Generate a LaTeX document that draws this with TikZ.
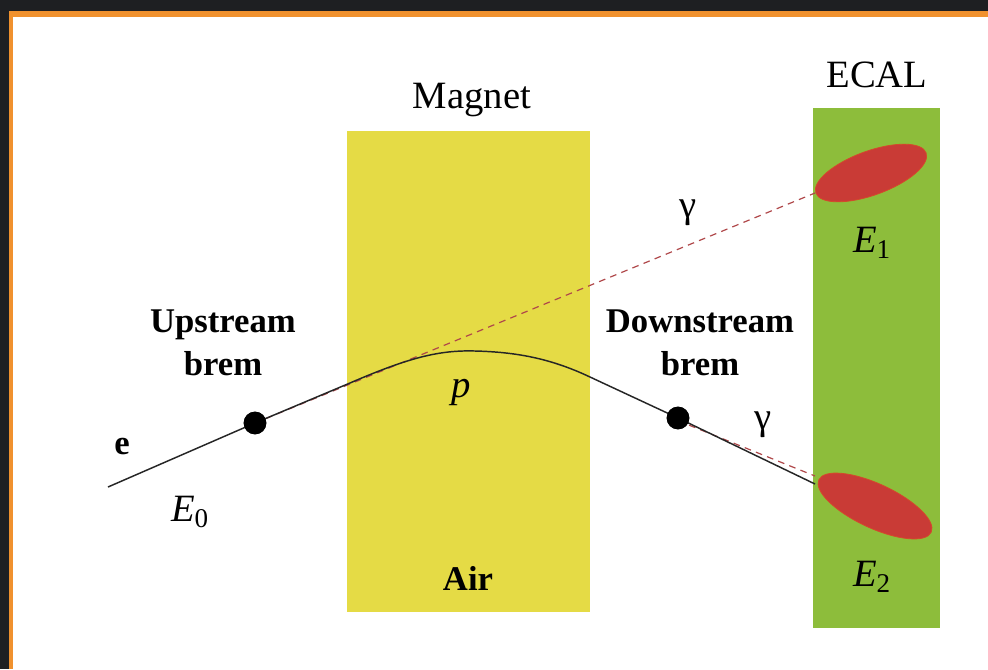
\documentclass[tikz,border=0pt]{standalone}
\usepackage{fontspec}
\setmainfont{Liberation Serif}
\usetikzlibrary{shapes.geometric}
\definecolor{magnetyellow}{HTML}{E5DB45}
\definecolor{ecalgreen}{HTML}{8DBD3B}
\definecolor{showerred}{HTML}{C93B36}
\definecolor{framedark}{HTML}{1E1F22}
\definecolor{frameorange}{HTML}{F0912E}
\definecolor{photonred}{HTML}{B0484A}
\tikzset{
  lbl/.style={font=\fontsize{29}{34}\selectfont, inner sep=0pt},
  blbl/.style={font=\fontsize{26}{30}\selectfont\bfseries, inner sep=0pt, align=center},
  vertex/.style={circle, fill=black, minimum size=17pt, inner sep=0pt},
  shower/.style={ellipse, fill=showerred, draw=showerred!80!orange, line width=0.6pt, inner sep=0pt},
  track/.style={line width=1.1pt, black!85},
  photon/.style={line width=0.9pt, photonred, dash pattern=on 5pt off 4pt},
}
\begin{document}
\begin{tikzpicture}[x=0.75pt,y=-0.75pt]
\useasboundingbox (0,0) rectangle (988,669);
% frame
\fill[framedark] (0,0) rectangle (988,669);
\fill[frameorange] (9,11) rectangle (988,669);
\fill[white] (13,17) rectangle (988,669);
% magnet and ecal
\fill[magnetyellow] (347,131) rectangle (590,612);
\fill[ecalgreen] (813,108) rectangle (940,628);
% showers
\node[shower, rotate=20, minimum width=88pt, minimum height=33pt] (e1) at (871,173) {};
\node[shower, rotate=-25, minimum width=93pt, minimum height=33pt] (e2) at (875,506) {};
% named points
\coordinate (start) at (108,487);
\coordinate (entry) at (350,383);
\coordinate (top) at (475,351);
\coordinate (exit) at (590,377);
\coordinate (g1end) at (815,193);
\coordinate (g2end) at (815,476);
\coordinate (eend) at (815,484);
\node[vertex] (up) at (255,423) {};
\node[vertex] (down) at (678,418) {};
% photons
\draw[photon] (up.center) -- (g1end);
\draw[photon] ([yshift=-2pt]down.center) -- (g2end);
% electron track
\draw[track] (start) -- (up.center) -- (entry)
  .. controls (410,357) and (440,350) .. (top)
  .. controls (515,352) and (550,358) .. (exit)
  -- (down.center) -- (eend);
\node[vertex] at (up) {};
\node[vertex] at (down) {};
% labels
\node[lbl] (mag) at (472,100) {Magnet};
\node[lbl] (ecal) at (877,75) {ECAL};
\node[lbl] (gam1) at (688,213) {γ};
\node[lbl] (gam2) at (763,425) {γ};
\node[lbl] (E1) at (872,243) {\textit{E}\textsubscript{1}};
\node[lbl] (E2) at (872,577) {\textit{E}\textsubscript{2}};
\node[lbl] (E0) at (190,512) {\textit{E}\textsubscript{0}};
\node[lbl] (p) at (461,392) {\textit{p}};
\node[blbl] (e) at (122,446) {e};
\node[blbl] (air) at (468,578) {Air};
\node[blbl] (ups) at (223,343) {Upstream\\[2pt]brem};
\node[blbl] (dns) at (700,343) {Downstream\\[2pt]brem};
\end{tikzpicture}
\end{document}
